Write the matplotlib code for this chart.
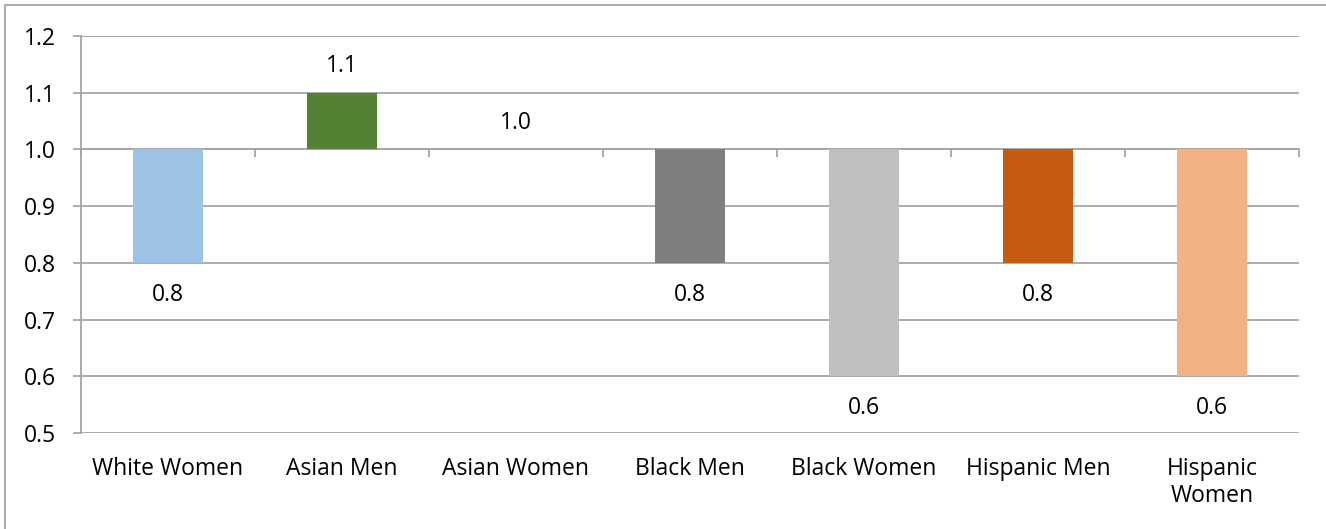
import matplotlib
matplotlib.use("Agg")
import matplotlib.pyplot as plt
from matplotlib.patches import Rectangle
import numpy as np

categories = ["White Women", "Asian Men", "Asian Women", "Black Men",
              "Black Women", "Hispanic Men", "Hispanic\nWomen"]
values = [0.8, 1.1, 1.0, 0.8, 0.6, 0.8, 0.6]
colors = ["#9DC3E6", "#548235", "#A5A5A5", "#7F7F7F",
          "#BFBFBF", "#C55A11", "#F4B183"]
baseline = 1.0
y_ticks = [0.5, 0.6, 0.7, 0.8, 0.9, 1.0, 1.1, 1.2]

plt.rcParams["font.family"] = ["Open Sans", "DejaVu Sans"]
FS = 16.5
GRID = "#A6A6A6"

fig = plt.figure(figsize=(13.26, 5.29), dpi=100)
ax = fig.add_axes([81 / 1326, 1 - 433 / 529, (1299 - 81) / 1326, (433 - 36) / 529])

x = np.arange(len(categories))
heights = [v - baseline for v in values]
ax.bar(x, heights, bottom=baseline, width=0.4, color=colors, zorder=3)

# value labels beyond the end of each bar
for xi, v in zip(x, values):
    below = v < baseline
    ax.annotate(f"{v:.1f}", (xi, v), xytext=(0, -23 if below else 19),
                textcoords="offset points", ha="center", va="center",
                fontsize=FS, color="#000000")

ax.set_xlim(-0.5, len(categories) - 0.5)
ax.set_ylim(y_ticks[0], y_ticks[-1])
ax.set_yticks(y_ticks)
ax.set_yticklabels([f"{t:.1f}" for t in y_ticks])
ax.yaxis.grid(True, color=GRID, linewidth=1.3, zorder=0)
ax.tick_params(axis="y", length=6, width=1.3, color=GRID, pad=12,
               labelsize=FS)

for side in ("top", "right"):
    ax.spines[side].set_visible(False)
ax.spines["left"].set_color(GRID)
ax.spines["left"].set_linewidth(1.3)

# horizontal category axis crosses at the baseline
ax.spines["bottom"].set_position(("data", baseline))
ax.spines["bottom"].set_color(GRID)
ax.spines["bottom"].set_linewidth(1.3)
ax.set_xticks(np.arange(len(categories) + 1) - 0.5)
ax.tick_params(axis="x", length=6, width=1.3, color=GRID, direction="out",
               labelbottom=False)

# category labels sit below the plot area
sec = ax.secondary_xaxis("bottom")
sec.set_xticks(x)
sec.set_xticklabels(categories, fontsize=FS, va="top", linespacing=1.2)
sec.tick_params(length=0, pad=17)
sec.spines["bottom"].set_visible(False)

fig.patches.append(Rectangle((5 / 1326, -0.01), 1.05, 1 - 5 / 529 + 0.01,
                             transform=fig.transFigure, fill=False,
                             edgecolor="#A6A6A6", linewidth=1.3))

fig.savefig("out.png", dpi=100)
